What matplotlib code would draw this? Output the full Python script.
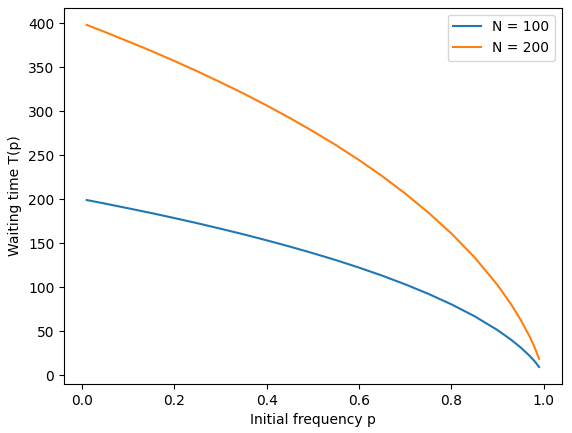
import matplotlib
matplotlib.use("Agg")
import matplotlib.pyplot as plt

p = [0.01, 0.05, 0.1, 0.15, 0.2, 0.25, 0.3, 0.35, 0.4, 0.45, 0.5, 0.55, 0.6,
     0.65, 0.7, 0.75, 0.8, 0.85, 0.9, 0.93, 0.95, 0.97, 0.98, 0.99]
t_n100 = [199.0, 194.9, 189.6, 184.2, 178.5, 172.6, 166.4, 160.0, 153.2, 146.1,
          138.6, 130.7, 122.2, 113.1, 103.2, 92.4, 80.5, 67.0, 51.2, 40.0,
          31.5, 21.7, 16.0, 9.3]
t_n200 = [398.0, 389.8, 379.2, 368.4, 357.0, 345.2, 332.8, 320.0, 306.4, 292.2,
          277.2, 261.4, 244.4, 226.2, 206.4, 184.8, 161.0, 134.0, 102.4, 80.0,
          63.0, 43.4, 32.0, 18.6]

fig, ax = plt.subplots(figsize=(5.72, 4.33), dpi=100)
fig.subplots_adjust(left=0.112, right=0.982, top=0.982, bottom=0.113)
ax.plot(p, t_n100, label="N = 100")
ax.plot(p, t_n200, label="N = 200")
ax.set_xlabel("Initial frequency p")
ax.set_ylabel("Waiting time T(p)")
ax.legend(loc="upper right")
fig.savefig("out.png")
